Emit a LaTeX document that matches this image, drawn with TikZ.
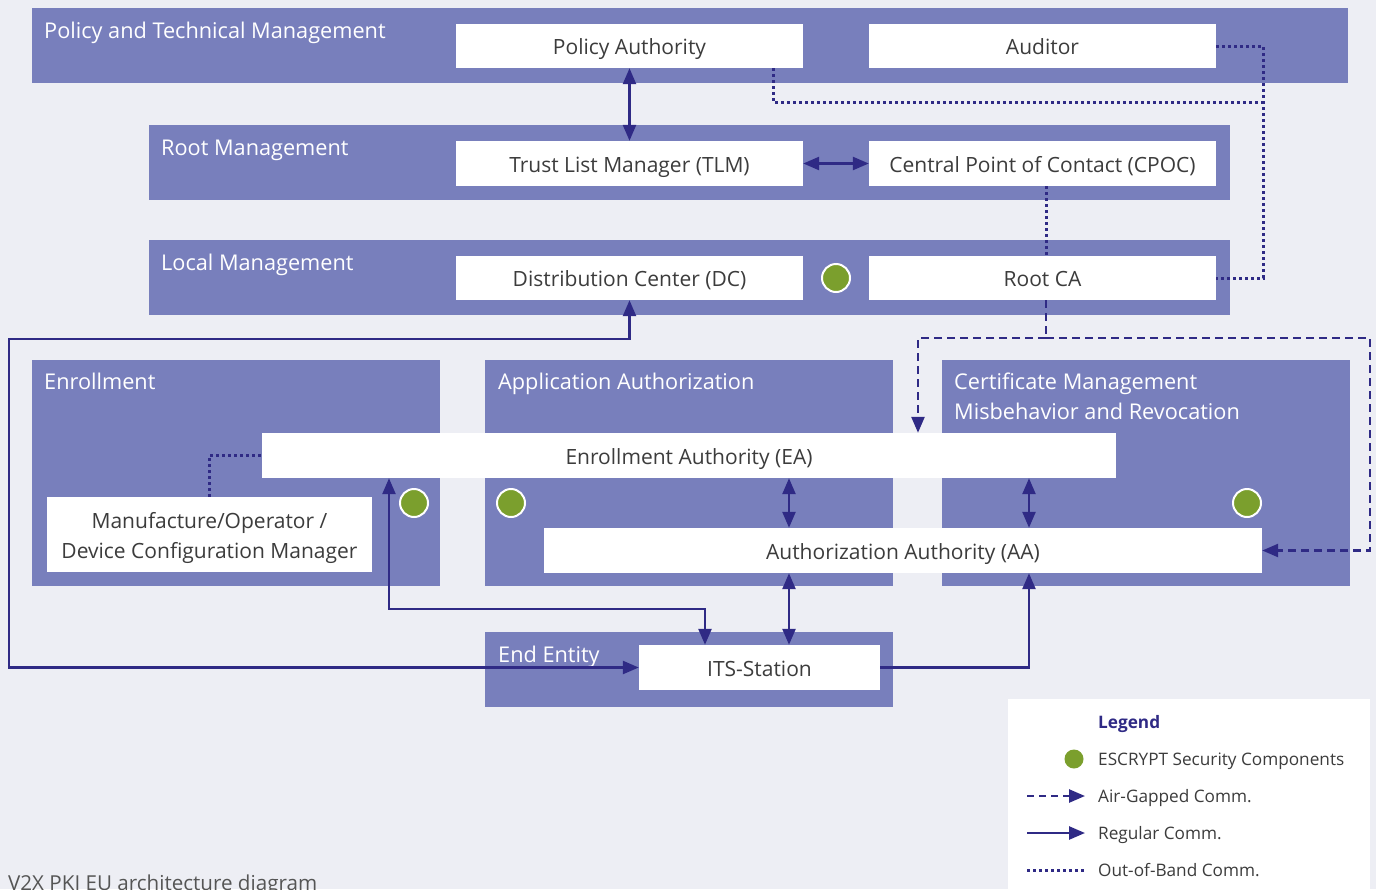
\documentclass[tikz,border=0pt]{standalone}
\usepackage{fontspec}
\setmainfont{Open Sans}
\usetikzlibrary{arrows.meta,calc}
\definecolor{bgc}{HTML}{EDEEF4}
\definecolor{panelc}{HTML}{787FBC}
\definecolor{linec}{HTML}{2F2A85}
\definecolor{greenc}{HTML}{7B9F2D}
\definecolor{txtc}{HTML}{3C3C3C}
\definecolor{capc}{HTML}{555555}
\tikzset{
  panel/.style={fill=panelc, draw=none, inner sep=0pt},
  wbox/.style={fill=white, draw=none, inner sep=0pt},
  wtxt/.style={anchor=base, inner sep=0pt, text=txtc, font=\fontsize{21}{29}\selectfont},
  ptitle/.style={anchor=base west, text=white, inner sep=0pt, font=\fontsize{21.7}{30}\selectfont},
  gdot/.style={circle, fill=greenc, draw=white, line width=2pt, minimum size=28pt, inner sep=0pt},
  tip/.tip={Triangle[length=16pt,width=13pt]},
  reg/.style={draw=linec, line width=2.5pt},
  airg/.style={draw=linec, line width=2.5pt, dash pattern=on 8pt off 5pt},
  oob/.style={draw=linec, line width=3pt, dash pattern=on 3pt off 3pt},
  legtxt/.style={anchor=base west, text=txtc, inner sep=0pt, font=\fontsize{17.2}{20}\selectfont},
}
\begin{document}
\begin{tikzpicture}[x=1pt,y=-1pt]
\useasboundingbox (0,0) rectangle (1376,889);
\fill[bgc] (0,0) rectangle (1376,889);

% bands and panels
\node[panel, minimum width=1316pt, minimum height=75pt] (band1) at (690,45.5) {};
\node[panel, minimum width=1081pt, minimum height=75pt] (band2) at (689.5,162.5) {};
\node[panel, minimum width=1081pt, minimum height=75pt] (band3) at (689.5,277.5) {};
\node[panel, minimum width=408pt, minimum height=226pt] (penr) at (236,473) {};
\node[panel, minimum width=408pt, minimum height=226pt] (papp) at (689,473) {};
\node[panel, minimum width=408pt, minimum height=226pt] (pcert) at (1146,473) {};
\node[panel, minimum width=408pt, minimum height=75pt] (pend) at (689,669.5) {};

% titles
\node[ptitle] (t1) at (44,38) {Policy and Technical Management};
\node[ptitle] (t2) at (161,155) {Root Management};
\node[ptitle] (t3) at (161,270) {Local Management};
\node[ptitle] (t4) at (44,389) {Enrollment};
\node[ptitle] (t5) at (498,389) {Application Authorization};
\node[ptitle] (t6) at (954,389) {Certificate Management};
\node[ptitle] (t7) at (954,419) {Misbehavior and Revocation};
\node[ptitle] (t8) at (498,662) {End Entity};

% white boxes
\node[wbox, minimum width=347pt, minimum height=44pt] (PA) at (629.5,46) {};
\node[wbox, minimum width=347pt, minimum height=44pt] (AUD) at (1042.5,46) {};
\node[wbox, minimum width=347pt, minimum height=45pt] (TLM) at (629.5,163.5) {};
\node[wbox, minimum width=347pt, minimum height=45pt] (CPOC) at (1042.5,163.5) {};
\node[wbox, minimum width=347pt, minimum height=44pt] (DC) at (629.5,278) {};
\node[wbox, minimum width=347pt, minimum height=44pt] (RCA) at (1042.5,278) {};
\node[wbox, minimum width=854pt, minimum height=45pt] (EA) at (689,455.5) {};
\node[wbox, minimum width=325pt, minimum height=75pt] (MDCM) at (209.5,534.5) {};
\node[wbox, minimum width=718pt, minimum height=45pt] (AA) at (903,550.5) {};
\node[wbox, minimum width=241pt, minimum height=45pt] (ITS) at (759.5,667.5) {};

% box texts
\node[wtxt] (PAt) at ($(PA.center)+(0,8.5)$) {Policy Authority};
\node[wtxt] (AUDt) at ($(AUD.center)+(0,8.5)$) {Auditor};
\node[wtxt] (TLMt) at ($(TLM.center)+(0,8.5)$) {Trust List Manager (TLM)};
\node[wtxt] (CPOCt) at ($(CPOC.center)+(0,8.5)$) {Central Point of Contact (CPOC)};
\node[wtxt] (DCt) at ($(DC.center)+(0,8.5)$) {Distribution Center (DC)};
\node[wtxt] (RCAt) at ($(RCA.center)+(0,8.5)$) {Root CA};
\node[wtxt] (EAt) at ($(EA.center)+(0,8.5)$) {Enrollment Authority (EA)};
\node[wtxt] (MDCMa) at ($(MDCM.center)+(0,-6.5)$) {Manufacture/Operator /};
\node[wtxt] (MDCMb) at ($(MDCM.center)+(0,23.5)$) {Device Configuration Manager};
\node[wtxt] (AAt) at ($(AA.center)+(0,8.5)$) {Authorization Authority (AA)};
\node[wtxt] (ITSt) at ($(ITS.center)+(0,8.5)$) {ITS-Station};

% green dots
\node[gdot] (g1) at (836,278) {};
\node[gdot] (g2) at (414,503) {};
\node[gdot] (g3) at (511,503) {};
\node[gdot] (g4) at (1247,503) {};

% coordinates
\coordinate (oobR) at (1263,102);
\coordinate (ag) at (1046,338);
\coordinate (agR) at (1370,338);
\coordinate (lpA) at (9,339);
\coordinate (lpB) at (389,609);

% out-of-band
\draw[oob] (AUD.east) -| (oobR) |- (RCA.east);
\draw[oob] ([xshift=143.5pt]PA.south) |- (oobR);
\draw[oob] ([xshift=3.5pt]CPOC.south) -- ([xshift=3.5pt]RCA.north);
\draw[oob] (MDCM.north) |- (EA.west);

% air-gapped
\draw[airg] ([xshift=3.5pt]RCA.south) -- (ag);
\draw[airg,-tip] (ag) -| ([xshift=229pt]EA.north);
\draw[airg,-tip] (ag) -- (agR) |- (AA.east);

% regular
\draw[reg,tip-tip] (PA.south) -- (TLM.north);
\draw[reg,tip-tip] (TLM.east) -- (CPOC.west);
\draw[reg,tip-tip] (DC.south) |- (lpA) |- (ITS.west);
\draw[reg,tip-tip] ([xshift=-300pt]EA.south) |- (lpB) -| ([xshift=-54.5pt]ITS.north);
\draw[reg,tip-tip] ([xshift=100pt]EA.south) -- ([xshift=100pt]EA.south |- AA.north);
\draw[reg,tip-tip] ([xshift=340pt]EA.south) -- ([xshift=340pt]EA.south |- AA.north);
\draw[reg,tip-tip] ([xshift=29.5pt]ITS.north) -- ([xshift=29.5pt]ITS.north |- AA.south);
\draw[reg,-tip] (ITS.east) -| ([xshift=126pt]AA.south);

% legend
\node[fill=white, draw=none, minimum width=362pt, minimum height=200pt, inner sep=0pt, anchor=north west] (leg) at (1008,699) {};
\node[anchor=base west, inner sep=0pt, text=linec, font=\fontsize{17.2}{20}\selectfont\bfseries] (legt) at (1098,728) {Legend};
\node[gdot, minimum size=19pt, draw=none] (lg) at (1074,759) {};
\node[legtxt] (l1) at (1098,765) {ESCRYPT Security Components};
\coordinate (la1) at (1027,796); \coordinate (la2) at (1085,796);
\coordinate (lb1) at (1027,833); \coordinate (lb2) at (1085,833);
\coordinate (lc1) at (1027,870); \coordinate (lc2) at (1085,870);
\draw[airg,-tip, dash pattern=on 7pt off 5pt] (la1) -- (la2);
\draw[reg,-tip] (lb1) -- (lb2);
\draw[oob] (lc1) -- (lc2);
\node[legtxt] (l2) at (1098,802) {Air-Gapped Comm.};
\node[legtxt] (l3) at (1098,839) {Regular Comm.};
\node[legtxt] (l4) at (1098,876) {Out-of-Band Comm.};

% caption
\node[anchor=base west, inner sep=0pt, text=capc, font=\fontsize{20.6}{24}\selectfont] (cap) at (8,890) {V2X PKI EU architecture diagram};
\end{tikzpicture}
\end{document}
